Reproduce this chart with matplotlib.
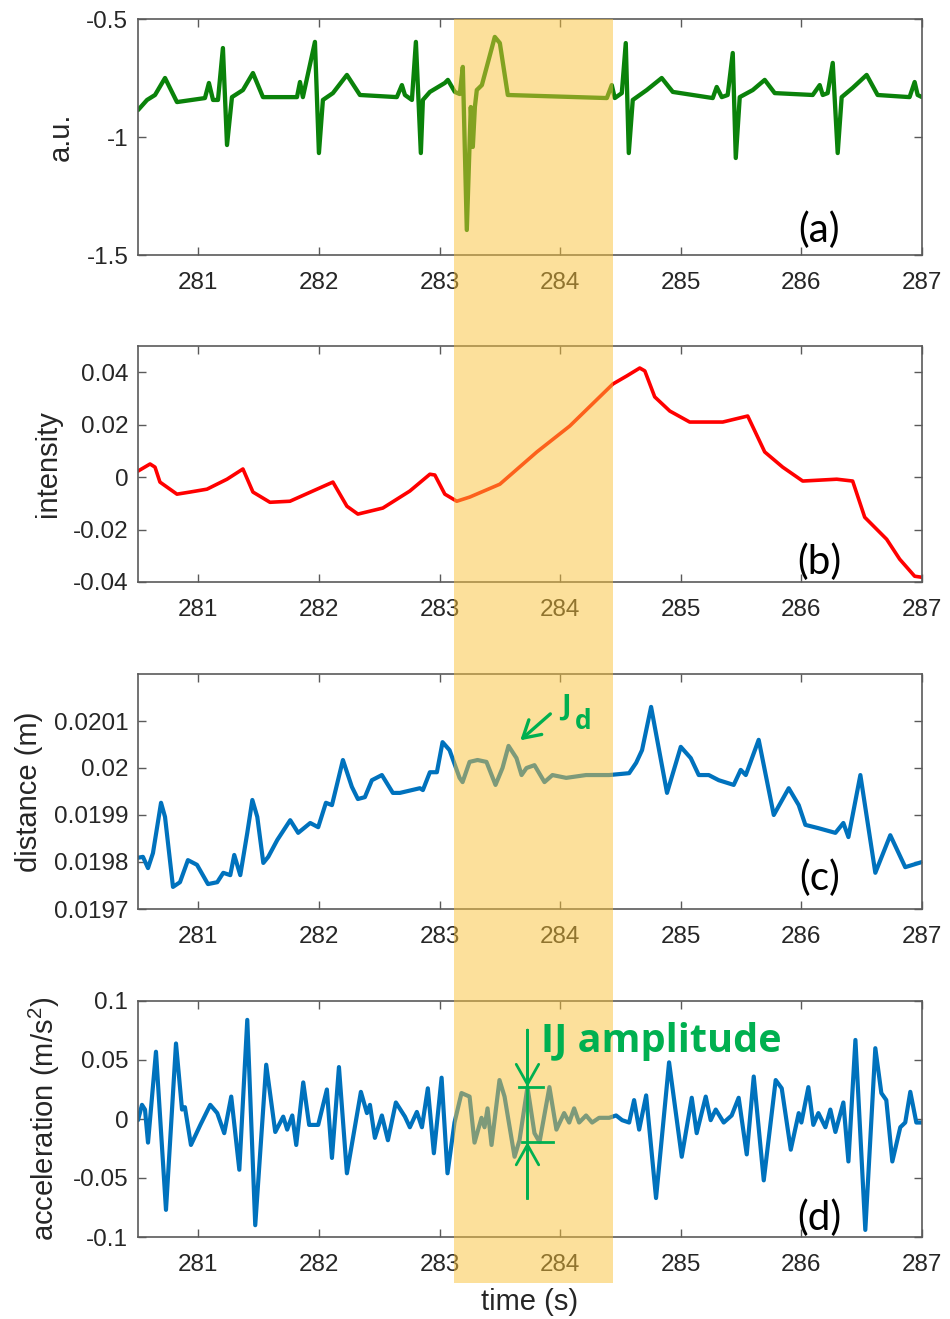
import matplotlib
matplotlib.use("Agg")
import matplotlib.pyplot as plt
import matplotlib.transforms as mtransforms
from matplotlib.patches import Rectangle, FancyArrowPatch, ArrowStyle
from matplotlib.lines import Line2D

plt.rcParams["font.family"] = ["Liberation Sans", "DejaVu Sans"]
plt.rcParams["mathtext.default"] = "regular"
plt.rcParams["axes.unicode_minus"] = False

# ---------------------------------------------------------------- data
ecg_t = [280.500, 280.575, 280.641, 280.724, 280.823, 281.055, 281.088, 281.122,
         281.163, 281.204, 281.238, 281.279, 281.370, 281.453, 281.536, 281.818,
         281.843, 281.867, 281.967, 282.000, 282.033, 282.116, 282.232, 282.340,
         282.646, 282.688, 282.713, 282.771, 282.804, 282.845, 282.862, 282.920,
         283.044, 283.069, 283.127, 283.168, 283.193, 283.226, 283.259, 283.276,
         283.293, 283.309, 283.351, 283.458, 283.500, 283.566, 284.387, 284.428,
         284.453, 284.511, 284.544, 284.569, 284.602, 284.718, 284.842, 284.934,
         285.265, 285.298, 285.340, 285.389, 285.431, 285.456, 285.489, 285.597,
         285.696, 285.779, 286.094, 286.152, 286.177, 286.218, 286.260, 286.301,
         286.334, 286.425, 286.541, 286.632, 286.897, 286.939, 286.964, 287.000]
ecg_v = [-0.886, -0.843, -0.822, -0.750, -0.852, -0.835, -0.771, -0.843,
         -0.843, -0.623, -1.034, -0.831, -0.801, -0.729, -0.831, -0.831,
         -0.767, -0.831, -0.597, -1.068, -0.843, -0.814, -0.737, -0.822,
         -0.831, -0.780, -0.822, -0.843, -0.597, -1.068, -0.843, -0.809,
         -0.771, -0.758, -0.809, -0.818, -0.703, -1.394, -0.873, -1.042,
         -0.873, -0.801, -0.780, -0.576, -0.602, -0.822, -0.835, -0.780,
         -0.835, -0.814, -0.602, -1.068, -0.843, -0.801, -0.750, -0.809,
         -0.835, -0.788, -0.831, -0.822, -0.644, -1.089, -0.831, -0.801,
         -0.758, -0.814, -0.822, -0.780, -0.822, -0.814, -0.686, -1.068,
         -0.831, -0.792, -0.737, -0.822, -0.831, -0.767, -0.822, -0.831]

int_t = [280.500, 280.600, 280.641, 280.682, 280.823, 280.931, 281.072, 281.238,
         281.370, 281.453, 281.594, 281.760, 281.950, 282.116, 282.232, 282.323,
         282.530, 282.754, 282.920, 282.961, 283.044, 283.143, 283.251, 283.500,
         283.807, 284.080, 284.437, 284.553, 284.660, 284.702, 284.784, 284.909,
         285.074, 285.348, 285.555, 285.696, 285.845, 286.011, 286.293, 286.425,
         286.525, 286.707, 286.815, 286.939, 287.000]
int_v = [0.0023, 0.0050, 0.0038, -0.0019, -0.0065, -0.0057, -0.0046, -0.0008,
         0.0031, -0.0057, -0.0096, -0.0092, -0.0053, -0.0019, -0.0111, -0.0141,
         -0.0118, -0.0053, 0.0011, 0.0008, -0.0065, -0.0092, -0.0076, -0.0027,
         0.0096, 0.0195, 0.0355, 0.0386, 0.0416, 0.0405, 0.0306, 0.0252,
         0.0210, 0.0210, 0.0233, 0.0096, 0.0038, -0.0015, -0.0008, -0.0015,
         -0.0153, -0.0237, -0.0313, -0.0378, -0.0382]

dist_t = [280.500, 280.541, 280.583, 280.624, 280.691, 280.724, 280.790, 280.848,
          280.914, 280.989, 281.080, 281.157, 281.207, 281.265, 281.298, 281.348,
          281.406, 281.448, 281.489, 281.539, 281.580, 281.655, 281.762, 281.828,
          281.928, 281.994, 282.058, 282.108, 282.199, 282.273, 282.323, 282.381,
          282.439, 282.522, 282.613, 282.671, 282.837, 282.862, 282.920, 282.978,
          283.025, 283.083, 283.166, 283.191, 283.249, 283.315, 283.389, 283.464,
          283.522, 283.572, 283.638, 283.680, 283.721, 283.787, 283.870, 283.936,
          284.050, 284.215, 284.406, 284.572, 284.630, 284.679, 284.754, 284.886,
          285.000, 285.083, 285.149, 285.232, 285.315, 285.439, 285.497, 285.539,
          285.646, 285.771, 285.895, 285.978, 286.033, 286.141, 286.282, 286.348,
          286.390, 286.489, 286.613, 286.737, 286.861, 287.000]
dist_v = [0.019809, 0.019811, 0.019787, 0.019819, 0.019926, 0.019896, 0.019747, 0.019757,
          0.019804, 0.019794, 0.019753, 0.019757, 0.019777, 0.019772, 0.019815, 0.019772,
          0.019862, 0.019932, 0.019896, 0.019798, 0.019811, 0.019847, 0.019889, 0.019862,
          0.019883, 0.019874, 0.019926, 0.019921, 0.020017, 0.019960, 0.019934, 0.019938,
          0.019974, 0.019985, 0.019947, 0.019947, 0.019957, 0.019953, 0.019991, 0.019991,
          0.020055, 0.020038, 0.019979, 0.019970, 0.020013, 0.020017, 0.020013, 0.019964,
          0.020000, 0.020047, 0.020021, 0.019985, 0.020000, 0.020006, 0.019970, 0.019985,
          0.019979, 0.019985, 0.019985, 0.019989, 0.020011, 0.020038, 0.020130, 0.019947,
          0.020045, 0.020021, 0.019985, 0.019985, 0.019974, 0.019964, 0.019996, 0.019985,
          0.020060, 0.019900, 0.019957, 0.019921, 0.019879, 0.019872, 0.019862, 0.019883,
          0.019853, 0.019985, 0.019777, 0.019857, 0.019789, 0.019800]

acc_t = [280.500, 280.533, 280.558, 280.583, 280.649, 280.732, 280.815, 280.865,
         280.889, 280.939, 281.017, 281.099, 281.157, 281.215, 281.273, 281.340,
         281.406, 281.472, 281.563, 281.638, 281.704, 281.737, 281.779, 281.812,
         281.870, 281.919, 281.994, 282.066, 282.108, 282.166, 282.232, 282.348,
         282.398, 282.423, 282.464, 282.522, 282.572, 282.638, 282.713, 282.754,
         282.812, 282.854, 282.903, 282.953, 283.017, 283.066, 283.124, 283.182,
         283.249, 283.290, 283.348, 283.373, 283.398, 283.431, 283.497, 283.539,
         283.622, 283.663, 283.729, 283.787, 283.829, 283.911, 283.969, 284.033,
         284.075, 284.116, 284.157, 284.215, 284.265, 284.323, 284.406, 284.464,
         284.514, 284.572, 284.613, 284.655, 284.713, 284.795, 284.903, 285.008,
         285.091, 285.132, 285.207, 285.248, 285.290, 285.356, 285.422, 285.480,
         285.547, 285.605, 285.688, 285.787, 285.837, 285.912, 285.978, 286.000,
         286.058, 286.099, 286.141, 286.199, 286.240, 286.282, 286.348, 286.390,
         286.448, 286.530, 286.613, 286.663, 286.704, 286.754, 286.820, 286.861,
         286.903, 286.953, 287.000]
acc_v = [-0.001, 0.012, 0.008, -0.020, 0.057, -0.077, 0.064, 0.008,
         0.010, -0.022, -0.005, 0.012, 0.005, -0.012, 0.019, -0.043,
         0.084, -0.090, 0.046, -0.011, 0.002, -0.009, 0.003, -0.022,
         0.031, -0.005, -0.005, 0.025, -0.033, 0.044, -0.046, 0.023,
         0.005, 0.012, -0.016, 0.003, -0.018, 0.014, 0.002, -0.007,
         0.006, -0.007, 0.026, -0.029, 0.035, -0.046, -0.003, 0.022,
         0.019, -0.020, 0.001, -0.007, 0.009, -0.022, 0.033, 0.019,
         -0.032, -0.018, 0.027, -0.012, -0.0195, 0.027, -0.009, 0.005,
         -0.003, 0.009, -0.003, 0.003, -0.003, 0.001, 0.001, 0.003,
         -0.001, -0.003, 0.016, -0.009, 0.020, -0.067, 0.048, -0.032,
         0.018, -0.012, 0.019, -0.001, 0.008, -0.003, 0.003, 0.018,
         -0.030, 0.036, -0.052, 0.033, 0.026, -0.026, 0.005, -0.003,
         0.027, -0.005, 0.005, -0.007, 0.008, -0.011, 0.014, -0.036,
         0.067, -0.094, 0.060, 0.022, 0.016, -0.036, -0.007, -0.003,
         0.023, -0.003, -0.003]

# highlighted interval (s)
band_t = [283.124, 284.439]

# J peak marker on the distance trace and IJ amplitude limits on acceleration
jd_peak = (283.572, 0.020047)
ij_time = 283.729
ij_top = 0.027
ij_bottom = -0.0195

x_ticks = [281, 282, 283, 284, 285, 286, 287]
x_labels = ["281", "282", "283", "284", "285", "286", "287"]

panels = [
    dict(t=ecg_t, v=ecg_v, color="#0a820a", lw=3.1, ylim=(-1.5, -0.5),
         yticks=[-1.5, -1.0, -0.5], ylabels=["-1.5", "-1", "-0.5"],
         ylabel="a.u.", tag="(a)", tag_y=0.106),
    dict(t=int_t, v=int_v, color="#ff0000", lw=2.6, ylim=(-0.04, 0.05),
         yticks=[-0.04, -0.02, 0.0, 0.02, 0.04],
         ylabels=["-0.04", "-0.02", "0", "0.02", "0.04"],
         ylabel="intensity", tag="(b)", tag_y=0.085),
    dict(t=dist_t, v=dist_v, color="#0072bd", lw=3.0, ylim=(0.0197, 0.0202),
         yticks=[0.0197, 0.0198, 0.0199, 0.0200, 0.0201],
         ylabels=["0.0197", "0.0198", "0.0199", "0.02", "0.0201"],
         ylabel="distance (m)", tag="(c)", tag_y=0.132),
    dict(t=acc_t, v=acc_v, color="#0072bd", lw=3.0, ylim=(-0.1, 0.1),
         yticks=[-0.1, -0.05, 0.0, 0.05, 0.1],
         ylabels=["-0.1", "-0.05", "0", "0.05", "0.1"],
         ylabel="acceleration (m/s$^2$)", tag="(d)", tag_y=0.08),
]

# ---------------------------------------------------------------- layout
W, H = 950, 1319
fig = plt.figure(figsize=(W / 100, H / 100), dpi=100)
fig.patch.set_facecolor("white")

ax_left, ax_right = 138, 922
panel_px = [(19, 255), (346, 582), (674, 909), (1001, 1237)]

tick_col = "#262626"
spine_col = "#5a5a5a"
annot_green = "#00b050"

axes = []
for (top, bot), p in zip(panel_px, panels):
    ax = fig.add_axes([ax_left / W, 1 - bot / H, (ax_right - ax_left) / W, (bot - top) / H])
    ax.plot(p["t"], p["v"], color=p["color"], lw=p["lw"],
            solid_joinstyle="round", solid_capstyle="round")
    ax.set_xlim(280.5, 287.0)
    ax.set_ylim(*p["ylim"])
    ax.set_xticks(x_ticks)
    ax.set_xticklabels(x_labels)
    ax.set_yticks(p["yticks"])
    ax.set_yticklabels(p["ylabels"])
    ax.tick_params(axis="both", direction="in", length=6, width=1.0,
                   color=spine_col, labelcolor=tick_col, labelsize=17.5,
                   top=True, right=True)
    ax.tick_params(axis="x", pad=12)
    ax.tick_params(axis="y", pad=7)
    for s in ax.spines.values():
        s.set_color(spine_col)
        s.set_linewidth(1.2)
    ax.set_ylabel(p["ylabel"], fontsize=21, color=tick_col, labelpad=8)
    ax.text(0.869, p["tag_y"], p["tag"], transform=ax.transAxes, fontsize=29,
            family=["Lato", "DejaVu Sans"], ha="center", va="center", color="black")
    axes.append(ax)

axes[-1].set_xlabel("time (s)", fontsize=21, color=tick_col, labelpad=9)

# ---------------------------------------------------------------- highlight band
band_tr = mtransforms.blended_transform_factory(axes[-1].transData, fig.transFigure)
band_y0 = 1 - 1283 / H
band_y1 = 1 - 19 / H
band = Rectangle((band_t[0], band_y0), band_t[1] - band_t[0], band_y1 - band_y0,
                 transform=band_tr, facecolor=(0.98, 0.76, 0.22), alpha=0.5,
                 edgecolor="none", zorder=5)
fig.add_artist(band)

# ---------------------------------------------------------------- annotations
ax_c, ax_d = axes[2], axes[3]

# J_d arrow and label on the distance trace
jd_arrow = FancyArrowPatch((283.936, 0.020119), (jd_peak[0] + 0.08, jd_peak[1] + 0.000008),
                           transform=ax_c.transData,
                           arrowstyle=ArrowStyle("->", head_length=0.6, head_width=0.35),
                           mutation_scale=20, color=annot_green, lw=2.4, zorder=6)
fig.add_artist(jd_arrow)
fig.text(284.045, 0.020130, "J", transform=ax_c.transData, fontsize=21,
         fontweight="bold", family=["Open Sans", "DejaVu Sans"], color=annot_green,
         ha="center", va="center", zorder=6)
fig.text(284.190, 0.020098, "d", transform=ax_c.transData, fontsize=19,
         fontweight="bold", family=["Open Sans", "DejaVu Sans"], color=annot_green,
         ha="center", va="center", zorder=6)

# IJ amplitude marker on the acceleration trace
top_start, bot_start = 0.0754, -0.067
fig.add_artist(Line2D([ij_time, ij_time], [top_start, bot_start], transform=ax_d.transData,
                      color=annot_green, lw=2.0, zorder=6))
fig.add_artist(Line2D([283.657, 283.856], [ij_top, ij_top], transform=ax_d.transData,
                      color=annot_green, lw=2.0, zorder=6))
fig.add_artist(Line2D([283.682, 283.939], [ij_bottom, ij_bottom], transform=ax_d.transData,
                      color=annot_green, lw=2.0, zorder=6))
for start, end in [((ij_time, top_start), (ij_time, ij_top)),
                   ((ij_time, bot_start), (ij_time, ij_bottom))]:
    fig.add_artist(FancyArrowPatch(start, end, transform=ax_d.transData,
                                   arrowstyle=ArrowStyle("->", head_length=0.8, head_width=0.45),
                                   mutation_scale=18, color=annot_green, lw=2.0,
                                   shrinkA=0, shrinkB=0, zorder=6))
fig.text(283.845, 0.0568, "IJ amplitude", transform=ax_d.transData, fontsize=28.5,
         fontweight="bold", family=["Open Sans", "DejaVu Sans"], color=annot_green,
         ha="left", va="baseline", zorder=6)

fig.savefig("out.png", dpi=100)
